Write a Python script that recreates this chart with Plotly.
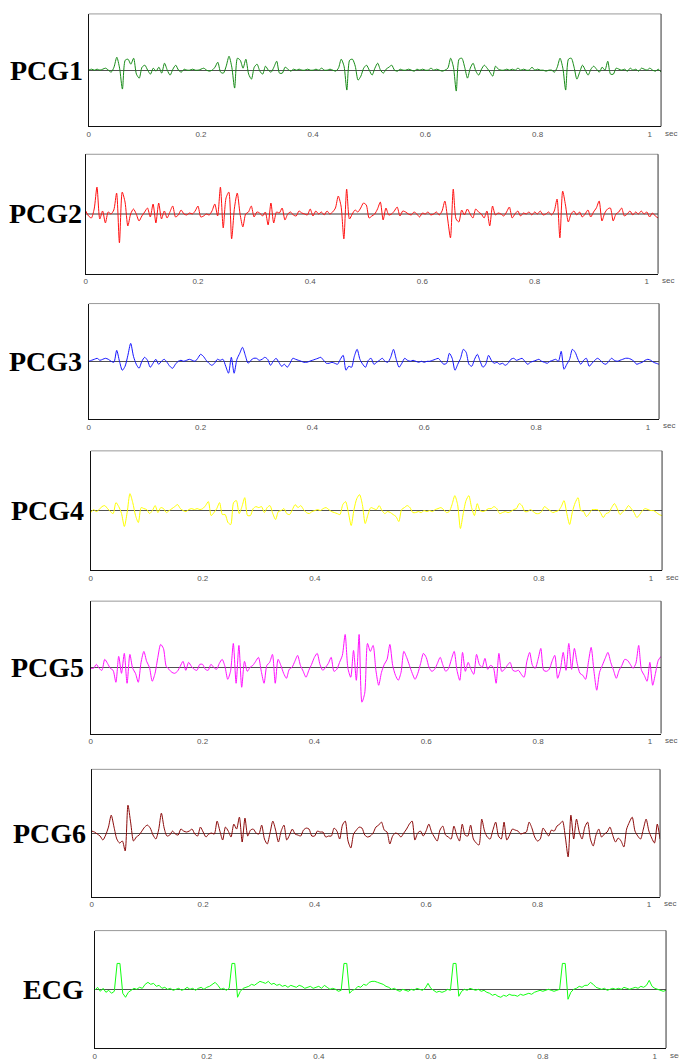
import plotly.graph_objects as go

DT = 0.005

TICK_VALS = [0, 0.2, 0.4, 0.6, 0.8, 1]
TICK_TEXT = ["0", "0.2", "0.4", "0.6", "0.8", "1"]
NAMES = ["PCG1", "PCG2", "PCG3", "PCG4", "PCG5", "PCG6", "ECG"]

PCG1 = [0, 1, 0, 1, 0, 1, 2, 0, -2, 3,
        13, 2, -19, 10, 11, 6, 12, -4, -8, 3,
        5, 0, -4, 2, -1, 3, -3, 7, 0, -5,
        1, 5, 0, -2, 1, 0, 0, 1, 0, 0,
        1, 2, 0, -1, 0, 3, 8, -2, -3, 4,
        14, 3, -18, 12, 10, 2, 11, -4, -9, 3,
        6, -1, -4, 4, 0, -2, 3, 9, -3, -3,
        3, 1, -1, 1, 0, 1, 0, 0, 1, 0,
        0, 1, 0, 2, 0, 0, 1, 0, -1, 2,
        11, 4, -20, 10, 11, 4, -10, -6, 2, 5,
        0, -5, 2, 7, 0, -3, 1, 3, 5, 0,
        -1, 1, 0, 0, 1, 0, -1, 1, 0, 1,
        0, 0, 2, 0, 1, 0, -1, 0, 2, 12,
        3, -21, 11, 12, 3, -8, 2, 7, -1, -5,
        1, 5, 2, -2, -6, 4, 1, 0, 0, 1,
        0, 1, 0, 2, 0, 1, 0, 0, 3, 0,
        1, 0, 0, -1, 0, 0, -2, 3, 12, 2,
        -20, 11, 12, 3, -9, -2, 5, 0, -5, 1,
        4, 1, -2, 3, 0, 9, -4, -4, 2, 1,
        0, 1, -1, 2, 0, 1, -1, 2, 1, 0,
        2, 0, -1, 1, -2]

PCG2 = [3, -2, -4, 5, 27, -5, 3, -9, 2, 0,
        4, 21, -29, 22, 12, -12, 0, 5, 0, -7,
        -2, 2, 6, -3, 10, -9, 11, -5, 3, -4,
        2, 8, -3, -1, 4, 0, -1, 1, 0, 3,
        8, -3, -2, 0, -1, 3, 10, -2, 27, -14,
        16, 22, -25, 6, 21, 0, -13, 0, 2, 8,
        -3, 2, 1, -2, 2, -11, 11, -9, 2, 1,
        6, -6, 0, 2, -1, -2, 3, 1, 0, -1,
        5, -2, 3, 0, 2, -1, 3, 0, 2, 6,
        18, 8, -25, 25, -5, 0, 4, 2, 6, 11,
        9, -4, -2, 0, 5, 12, -6, 6, -1, 0,
        3, 7, -2, 3, 2, 0, -1, 2, 0, -3,
        1, 0, 2, -1, 0, 2, -1, 3, 13, -5,
        -24, 25, -5, -8, 4, -1, 5, 0, -4, 5,
        2, 0, -4, 3, -12, 8, -1, 1, 0, -2,
        2, 7, -4, 0, 3, -2, 1, 0, 2, -1,
        2, 0, 3, -1, 0, 2, -1, 3, 15, -24,
        23, 9, -8, 0, 3, -1, 2, -3, 0, 4,
        -3, 2, 6, 13, -7, 1, 5, 6, -7, 0,
        2, 6, -2, 0, 3, -1, 2, 0, 3, 0,
        2, -3, 1, -2, -4]

PCG3 = [0, 1, 2, 3, 1, 2, 3, 2, 0, -1,
        11, 0, -9, -5, 6, 18, 5, -3, -7, 0,
        4, 1, -6, -2, 2, -3, 0, 2, -1, -5,
        -7, -3, 0, 1, 0, 1, 2, 1, 0, 3,
        7, 5, 1, -2, -4, -2, 2, 1, 2, -5,
        -12, 4, -12, 2, 8, 14, 6, -2, 1, 3,
        3, 1, 2, 4, 2, -4, 0, 3, -1, -5,
        -3, -6, -2, 3, 2, 1, 0, -1, -1, 0,
        1, 2, 3, 4, 1, -2, -2, -1, -2, -3,
        2, 6, -9, -5, -6, 5, 12, 2, -3, -6,
        1, 3, -3, -1, 1, 3, 0, -1, 4, 12,
        2, -6, -2, 3, 1, 0, 1, 0, -1, 0,
        -1, 0, 0, 1, 2, 3, 0, -3, -2, 8,
        3, -9, -3, 3, 12, 9, -3, -5, 2, 7,
        0, -6, -3, 6, 1, -2, -1, -3, -2, -4,
        -2, 2, 3, 1, 2, 3, 0, -3, -1, 0,
        1, 2, 0, -1, -2, 0, 1, 2, 0, 10,
        -8, -3, 2, 12, 9, 2, -3, 1, 3, -5,
        -2, 1, 3, 1, -2, -3, 0, 3, 1, 0,
        1, 2, 3, 3, 2, 0, -3, -2, -1, 1,
        2, 1, -1, -2, -3]

PCG4 = [-2, 1, -1, 1, 4, 5, 2, -1, -3, 8,
        4, -3, -16, -2, 17, 8, -5, -12, 3, 2,
        1, -3, 0, 5, -2, 3, 2, -2, 0, 2,
        4, 6, 2, 0, -1, 1, 2, 1, 2, 1,
        2, 5, 9, -5, -2, 2, 8, -4, -4, -12,
        -14, 8, 10, -3, 4, 13, -5, -5, 2, 4,
        3, 4, -2, 3, 5, -3, -9, -1, 0, 2,
        -3, -4, 1, 6, 3, 5, 1, -2, -3, -1,
        0, 1, 0, 2, 3, 1, -1, -2, -3, -4,
        6, 9, -2, -15, 1, 12, 16, 6, -13, -4,
        3, 2, 1, 5, 0, -3, -1, -2, -4, -6,
        -11, 1, 3, 5, 3, -2, -2, -1, -2, 0,
        -1, 0, -1, 1, 2, 3, 1, -2, -1, 6,
        15, 6, -18, -3, 10, 15, 3, -5, 7, 0,
        -1, 0, 2, 2, 4, 2, -3, -2, -1, -2,
        -1, 1, 2, 7, 5, -1, -1, 1, -1, -3,
        -3, -1, 4, 2, 0, -2, -1, 0, 4, 10,
        -3, -14, -1, 8, 13, 0, -1, -6, -3, 1,
        1, 1, -2, -7, -3, -2, 3, 7, 2, -4,
        -1, 1, 5, 2, -2, -7, -4, 0, 2, 1,
        0, 0, -2, -4, -5]

PCG5 = [-1, -1, 3, -1, -3, 8, 4, -1, -3, -15,
        11, -6, 14, -16, 13, -1, -6, -15, 5, 16,
        6, 0, -14, -6, 10, 23, 19, 1, -2, -5,
        -6, -4, 1, 6, -3, 5, 1, -2, -3, 3,
        3, -2, -3, 3, 0, -2, 4, 8, 1, -12,
        -4, 24, -16, 22, -20, 6, -4, 0, 2, 6,
        10, -4, -16, 2, 5, 13, -16, 8, 2, -6,
        -11, -2, 0, 6, 12, 2, -4, -10, -3, 3,
        10, 14, 3, -3, 0, 4, 10, -4, -2, 5,
        12, 33, -1, -10, 17, -13, 33, -35, -26, 24,
        16, 22, -3, -18, -5, 3, 8, 23, 2, -8,
        -13, -5, 16, 10, 2, -6, -12, -6, 4, 14,
        10, 0, -4, -2, 4, 10, 2, -4, -1, 8,
        16, -3, -13, 15, -4, 5, -2, -7, 13, 3,
        0, 9, -2, 2, 0, -16, 14, -4, -2, 2,
        5, -3, -4, -3, -7, -10, 6, 15, 2, -1,
        8, 19, -3, -4, -2, 6, 12, -11, -2, 15,
        -3, 24, -2, 19, 4, -6, -8, -12, 5, 20,
        -4, -23, -5, 2, 9, 15, 5, -3, -11, -3,
        2, 8, 7, 3, -1, 4, 22, -3, -8, -14,
        5, -18, -6, 7, 11]

PCG6 = [2, 1, -1, -3, -7, -2, 6, 18, 6, -6,
        -10, -8, -18, 28, 10, -8, -4, -2, 2, 6,
        8, 5, -2, -6, 3, 20, 5, -3, -2, 2,
        -1, -2, 4, 2, 1, 2, 4, -1, -3, 6,
        1, -4, -1, 0, -1, 12, 2, -7, 6, 2,
        -4, 9, 4, 16, -9, 15, -3, 3, 4, 0,
        -1, 8, -6, -11, 0, 12, 3, -9, 2, 8,
        -7, -2, 4, -1, -2, -3, 3, 5, 4, -3,
        -3, 2, 1, 1, -4, -3, -3, 5, 2, -6,
        8, 12, -8, -15, -1, 3, 6, 5, -2, -4,
        -3, 0, 6, 8, 11, 3, 1, -11, -3, 0,
        -1, -4, 0, 4, 9, 12, -7, 0, 2, -3,
        2, 9, 1, -4, -8, 3, 7, -2, -4, -6,
        7, -2, -8, 9, -2, -3, 8, -6, -10, -12,
        14, 2, -4, -6, 3, 11, -3, -6, 11, -7,
        -2, 4, 3, 2, -1, 0, 1, 11, 5, -4,
        -8, -6, 5, 1, -3, 3, 2, 7, 9, 12,
        -4, -24, 18, -6, 14, 1, -6, 6, 11, -6,
        -13, -2, 4, -4, -1, 1, 6, -2, -9, -5,
        -8, -14, 4, 11, 16, 2, -3, -6, 4, 14,
        2, -5, -10, 9, -6]

ECG = [-1, 2, -2, 1, -3, -1, -4, -2, 26, 26,
       -4, -8, -3, -1, 1, 0, 2, 1, 5, 7,
       5, 6, 3, 4, 1, 2, 0, 1, -1, 0,
       1, -1, 0, 2, 0, 1, -1, 1, 2, 0,
       2, 3, 5, 7, 4, 0, 1, -1, 1, 26,
       26, -8, -2, 1, 2, 3, 5, 4, 6, 8,
       7, 6, 8, 5, 6, 4, 5, 3, 4, 2,
       4, 3, 2, 4, 3, 1, 2, 3, 1, 2,
       3, 1, 4, 2, 0, 1, 0, -2, -1, 26,
       26, -4, -1, 0, 3, 2, 5, 4, 7, 8,
       8, 7, 6, 5, 3, 2, 0, 1, -1, -2,
       0, -1, -2, 0, -1, 1, 0, -1, 1, 6,
       1, -1, -3, -2, -3, -2, 0, -1, 26, 26,
       -7, -2, 0, -1, 1, 0, -1, 0, -2, -1,
       -3, -4, -6, -5, -7, -8, -6, -7, -5, -6,
       -6, -7, -5, -6, -5, -4, -5, -3, -2, -1,
       -2, -1, 0, -1, -2, -1, 0, 26, 26, -10,
       -3, 0, 1, 3, 2, 4, 4, 7, 5, 2,
       1, 0, 1, -1, 0, 1, 0, 1, 0, 2,
       1, 0, 1, 2, 1, 3, 2, 4, 9, 3,
       1, 0, -1, -2, -1]

SERIES = [PCG1, PCG2, PCG3, PCG4, PCG5, PCG6, ECG]
COLORS = ["#168a16", "#ff1010", "#1414ff", "#ffff00", "#ff10ff", "#8a0a0a", "#10ff10"]
SHAPES = ["spline", "spline", "spline", "spline", "spline", "spline", "linear"]

W, H = 679, 1061
X_MAX = 1.02
# panel boxes in pixels: left, right, top, bottom
BOXES = [(87, 661, 14, 127), (84, 658, 155, 275), (87, 659, 305, 421),
         (89, 662, 453, 573), (89, 661, 604, 737), (90, 660, 773, 901),
         (93, 666, 935, 1053)]
LABEL_RIGHT = [83, 82, 82, 84, 84, 86, 84]

fig = go.Figure()
shapes = []
annotations = []
layout = {}
for i, (vals, col, name, box, lr, shp) in enumerate(zip(SERIES, COLORS, NAMES, BOXES,
                                                        LABEL_RIGHT, SHAPES)):
    n = i + 1
    sx = "" if n == 1 else str(n)
    L, R, T, B = box
    half = (B - T) / 2.0
    t = [k * DT for k in range(len(vals))]
    line = dict(color=col, width=1, shape=shp)
    if shp == "spline":
        line["smoothing"] = 0.7
    fig.add_trace(go.Scatter(x=t, y=vals, mode="lines", xaxis="x" + sx, yaxis="y" + sx,
                             line=line, hoverinfo="skip", showlegend=False))
    layout["xaxis" + sx] = dict(domain=[L / W, R / W], range=[0, X_MAX], anchor="y" + sx,
                               showgrid=False, zeroline=False, showline=True,
                               linecolor="#111", linewidth=1, ticks="",
                               tickvals=TICK_VALS, ticktext=TICK_TEXT,
                               tickfont=dict(family="Liberation Sans", size=8, color="#555"),
                               fixedrange=True)
    zl_col, zl_w = ("#9a9a9a", 2) if n == 2 else ("#505050", 1)
    layout["yaxis" + sx] = dict(domain=[1 - B / H, 1 - T / H], range=[-half, half],
                               anchor="x" + sx, showgrid=False, zeroline=True,
                               zerolinecolor=zl_col, zerolinewidth=zl_w,
                               showline=True, linecolor="#111", linewidth=1,
                               showticklabels=False, ticks="", fixedrange=True)
    xd = "x" + sx + " domain"
    yd = "y" + sx + " domain"
    shapes.append(dict(type="line", xref=xd, yref=yd, x0=0, x1=1, y0=1, y1=1,
                       line=dict(color="#999", width=1)))
    shapes.append(dict(type="line", xref=xd, yref=yd, x0=1, x1=1, y0=0, y1=1,
                       line=dict(color="#333", width=1)))
    annotations.append(dict(text="sec", xref="paper", yref="paper", x=(R + 2) / W,
                            y=1 - (B + 7) / H, xanchor="left", yanchor="middle",
                            showarrow=False,
                            font=dict(family="Liberation Sans", size=8, color="#555")))
    annotations.append(dict(text="<b>" + name + "</b>", xref="paper", yref="paper",
                            x=lr / W, y=1 - ((T + B) / 2.0) / H, xanchor="right",
                            yanchor="middle", showarrow=False,
                            font=dict(family="Liberation Serif", size=28, color="#000")))

fig.update_layout(width=W, height=H, margin=dict(l=0, r=0, t=0, b=0),
                  paper_bgcolor="white", plot_bgcolor="white",
                  shapes=shapes, annotations=annotations, hovermode=False, **layout)
fig.write_html("out.html", config={"displayModeBar": False},
               post_script="document.body.style.margin='0';"
                           "document.body.style.overflow='hidden';")
